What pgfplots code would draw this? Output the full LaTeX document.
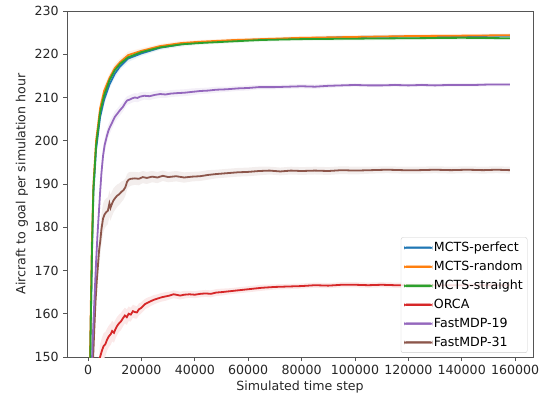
\documentclass[border=0pt]{standalone}
\usepackage{pgfplots}
\pgfplotsset{compat=1.18}
\usepackage{pgfplotstable}
\usepgfplotslibrary{fillbetween}
\usepackage{fontspec}
\setmainfont{DejaVu Sans}
\definecolor{tblue}{RGB}{31,119,180}
\definecolor{torange}{RGB}{255,127,14}
\definecolor{tgreen}{RGB}{44,160,44}
\definecolor{tred}{RGB}{214,39,40}
\definecolor{tpurple}{RGB}{148,103,189}
\definecolor{tbrown}{RGB}{140,86,75}
\definecolor{spine}{RGB}{85,85,85}

\pgfplotstableread{
x y e
0 120 2
800 150 2
1500 175 2
2000 188 2
3000 198 1.5
4500 205.5 1.5
6000 209.5 1.2
8000 213 1
10000 215.5 1
12000 217.2 0.8
15000 219 0.8
20000 220.2 0.6
27000 221.5 0.5
35000 222.3 0.5
42000 222.7 0.4
55000 223.2 0.4
65000 223.4 0.4
80000 223.7 0.4
100000 224 0.4
120000 224.1 0.4
140000 224.2 0.4
158000 224.3 0.4
}\mctsp

\pgfplotstableread{
x y e
0 125 2
700 150 2
1400 176 2
2000 190 2
3000 200 1.5
4500 207.5 1.5
6000 211.5 1.2
8000 214.5 1
10000 216.8 1
12000 218.2 0.8
15000 219.8 0.8
20000 220.8 0.6
27000 221.9 0.5
35000 222.6 0.5
42000 222.9 0.4
55000 223.3 0.4
65000 223.5 0.4
80000 223.8 0.4
100000 224 0.4
120000 224.2 0.4
140000 224.3 0.4
158000 224.4 0.4
}\mctsr

\pgfplotstableread{
x y e
0 122 2
800 150 2
1500 176 2
2000 189 2
3000 199 1.5
4500 206.5 1.5
6000 210.5 1.2
8000 214 1
10000 216.3 1
12000 217.8 0.8
15000 219.3 0.8
20000 220.5 0.6
27000 221.6 0.5
35000 222.3 0.5
42000 222.6 0.4
55000 223 0.4
65000 223.3 0.4
80000 223.5 0.4
100000 223.6 0.4
120000 223.7 0.4
140000 223.8 0.4
158000 223.7 0.4
}\mctss

\pgfplotstableread{
x y e
0 120 3
4500 150 3
5200 151.5 3
5800 152.5 3
6500 153 2.8
7100 154 2.6
7800 154.8 2.5
8500 155.3 2.5
9000 156 2.4
9700 155.6 2.3
10300 156.5 2.2
10900 157.2 2.1
11600 157.8 2
12300 158.2 2
13100 159 1.9
13800 159.6 1.8
14500 159.2 1.8
15200 160 1.7
16000 159.8 1.6
16800 160.6 1.5
17500 160.4 1.5
18300 160.3 1.4
19000 161 1.4
19800 161.3 1.3
20600 161.8 1.3
21500 162.3 1.2
22500 162.6 1.2
23500 162.9 1.1
24500 163.2 1.1
26000 163.5 1
27500 163.8 1
29000 164 1
30500 164.2 0.9
32000 164.5 0.9
33000 164.4 0.9
34500 164.2 0.9
36000 164.4 0.9
38000 164.5 0.8
40000 164.4 0.8
42000 164.6 0.8
44000 164.7 0.8
46000 164.6 0.8
48000 164.9 0.8
50000 165 0.8
53000 165.2 0.7
56000 165.4 0.7
59000 165.6 0.7
62000 165.8 0.7
65000 166 0.7
70000 166.2 0.6
75000 166.3 0.6
80000 166.4 0.6
85000 166.6 0.6
90000 166.5 0.6
95000 166.7 0.6
100000 166.7 0.6
105000 166.6 0.6
110000 166.7 0.6
115000 166.6 0.6
120000 166.6 0.6
125000 166.5 0.6
130000 166.6 0.6
140000 166.6 0.6
150000 166.6 0.6
158000 166.6 0.6
}\orca

\pgfplotstableread{
x y e
0 120 2
1500 150 2
2000 158 2
2500 165 2
3000 172 2
3500 178 2
4000 183 2
4500 188 2
5000 192.5 1.9
5600 196.5 1.8
6200 199 1.7
7000 201 1.6
7600 202.3 1.5
8200 203.2 1.5
9000 204.2 1.4
10000 205.5 1.3
11000 206.3 1.2
12000 207.1 1.2
13000 207.8 1.1
14000 208.8 1.1
14600 209.3 1
15500 209.5 1
16500 209.8 1
17500 210 1
18500 209.9 1
19500 210.2 1
21000 210.4 0.9
23000 210.3 0.9
25000 210.6 0.9
27000 210.8 0.9
29000 210.7 0.8
31000 210.9 0.8
33000 211 0.8
36000 211.1 0.8
39000 211.3 0.8
42000 211.5 0.7
45000 211.6 0.7
48000 211.8 0.7
52000 211.9 0.6
56000 212.1 0.6
60000 212.2 0.6
64000 212.4 0.5
70000 212.4 0.5
75000 212.5 0.5
80000 212.6 0.5
85000 212.5 0.5
90000 212.7 0.5
95000 212.8 0.4
100000 212.9 0.4
105000 212.8 0.4
110000 212.8 0.4
115000 212.9 0.4
120000 212.8 0.4
125000 212.9 0.4
130000 212.8 0.4
135000 212.9 0.4
140000 212.9 0.4
145000 212.9 0.4
150000 213 0.4
155000 213 0.4
158000 213 0.4
}\fmdpa

\pgfplotstableread{
x y e
0 120 3.5
1900 150 3.5
2300 156 3.5
2800 163 3.5
3300 168 3.5
3800 172 3.5
4100 174.5 3.5
4600 177 3.5
5000 179.5 3.5
5600 182 3.4
6200 183 3.3
6800 183.5 3.2
7400 183.8 3.1
8000 185.5 3
8400 184.5 3
8800 185.2 2.9
9500 186.2 2.8
10200 186.8 2.7
10900 187.3 2.6
11600 187.6 2.5
12500 188.2 2.4
13300 188.6 2.2
14000 189.3 2
14600 190.5 1.8
15200 191 1.7
16000 191.2 1.6
17500 191.3 1.5
19000 191.2 1.5
20500 191.6 1.4
22000 191.4 1.4
24000 191.7 1.3
26000 191.5 1.3
28000 191.9 1.2
30000 191.6 1.2
33000 191.8 1.2
36000 191.5 1.2
39000 191.7 1.1
42000 191.8 1.1
45000 192.1 1.1
48000 192.3 1
52000 192.5 1
56000 192.7 1
60000 192.8 1
64000 193 1
68000 193.1 0.9
72000 192.9 0.9
76000 193.1 0.9
80000 193 0.9
85000 193.1 0.9
90000 193 0.9
95000 193.2 0.9
100000 193.1 0.9
106000 193.2 0.8
112000 193.3 0.8
118000 193.2 0.8
124000 193.2 0.8
130000 193.3 0.8
136000 193.2 0.8
142000 193.3 0.8
148000 193.2 0.8
153000 193.3 0.8
158000 193.2 0.8
}\fmdpb

\newcommand{\band}[3]{%
  \addplot[draw=none, name path=#3u, forget plot] table[x=x, y expr=\thisrow{y}+\thisrow{e}] {#1};
  \addplot[draw=none, name path=#3l, forget plot] table[x=x, y expr=\thisrow{y}-\thisrow{e}] {#1};
  \addplot[fill=#2!10, draw=none, forget plot] fill between[of=#3u and #3l];
}

\begin{document}
\fontsize{12.6}{14.5}\selectfont
\begin{tikzpicture}
\begin{axis}[
  at={(67pt,42pt)}, anchor=south west,
  scale only axis, width=466pt, height=346pt,
  xmin=-7900, xmax=166700, ymin=150, ymax=230,
  xtick={0,20000,...,160000},
  ytick={150,160,...,230},
  scaled x ticks=false,
  xticklabel style={/pgf/number format/.cd, fixed, set thousands separator={}, assume math mode=true},
  yticklabel style={/pgf/number format/.cd, fixed, assume math mode=true},
  tick align=outside, xtick pos=bottom, ytick pos=left,
  major tick length=4pt,
  tick style={spine, line width=0.8pt},
  axis line style={spine, line width=0.8pt},
  tick label style={font=\fontsize{12.6}{14}\selectfont, text=black!85},
  label style={font=\fontsize{12.6}{14}\selectfont, text=black!85},
  xlabel={Simulated time step},
  ylabel={Aircraft to goal per simulation hour},
  xlabel style={yshift=3pt},
  ylabel style={yshift=-2pt},
  legend cell align=left,
  legend style={at={(rel axis cs:0.988,0.012)}, anchor=south east,
    draw=black!20, rounded corners=2pt, fill=white, fill opacity=0.85, text opacity=1,
    font=\fontsize{12.6}{14}\selectfont, row sep=4.6pt, inner sep=3pt,
    nodes={inner sep=1.5pt}},
  legend image code/.code={\fill[#1, fill opacity=1] (0pt,-0.95pt) rectangle (28pt,0.95pt);},
]
\band{\orca}{tred}{or}
\band{\fmdpb}{tbrown}{fb}
\band{\fmdpa}{tpurple}{fa}
\band{\mctsp}{tblue}{mp}
\band{\mctsr}{torange}{mr}
\band{\mctss}{tgreen}{ms}
\addplot[line width=1.8pt, color=tred, forget plot] table[x=x,y=y] {\orca};
\addplot[line width=1.8pt, color=tbrown, forget plot] table[x=x,y=y] {\fmdpb};
\addplot[line width=1.8pt, color=tpurple, forget plot] table[x=x,y=y] {\fmdpa};
\addplot[line width=1.8pt, color=tblue, forget plot] table[x=x,y=y] {\mctsp};
\addplot[line width=1.8pt, color=torange, forget plot] table[x=x,y=y] {\mctsr};
\addplot[line width=1.8pt, color=tgreen, forget plot] table[x=x,y=y] {\mctss};
\addlegendimage{tblue}
\addlegendentry{MCTS-perfect}
\addlegendimage{torange}
\addlegendentry{MCTS-random}
\addlegendimage{tgreen}
\addlegendentry{MCTS-straight}
\addlegendimage{tred}
\addlegendentry{ORCA}
\addlegendimage{tpurple}
\addlegendentry{FastMDP-19}
\addlegendimage{tbrown}
\addlegendentry{FastMDP-31}
\end{axis}
\pgfresetboundingbox
\useasboundingbox (0,0) rectangle (546pt,399pt);
\end{tikzpicture}
\end{document}
